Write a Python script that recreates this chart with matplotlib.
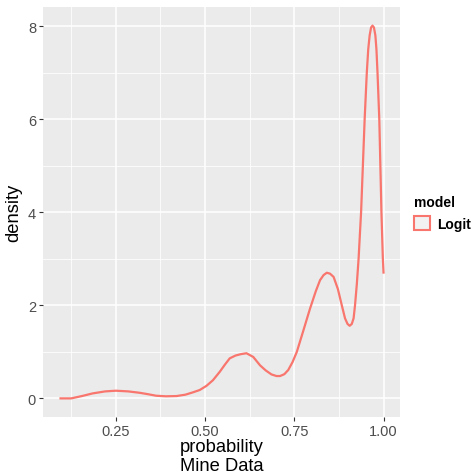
import matplotlib.pyplot as plt
from matplotlib.patches import Patch
from matplotlib.ticker import MultipleLocator

# density curve of model probabilities
prob = [0.092, 0.125, 0.155, 0.185, 0.22, 0.25, 0.285, 0.317, 0.34, 0.363,
        0.39, 0.42, 0.445, 0.466, 0.485, 0.504, 0.522, 0.541, 0.555, 0.569,
        0.585, 0.60, 0.616, 0.635, 0.654, 0.67, 0.686, 0.70, 0.71, 0.722,
        0.733, 0.745, 0.757, 0.775, 0.794, 0.81, 0.822, 0.832, 0.841, 0.85,
        0.86, 0.872, 0.883, 0.892, 0.899, 0.905, 0.911, 0.916, 0.920, 0.925,
        0.930, 0.937, 0.942, 0.947, 0.953, 0.957, 0.961, 0.965, 0.969, 0.973,
        0.977, 0.980, 0.983, 0.988, 0.991, 0.994, 0.998, 1.0]
density = [0.0, 0.0, 0.05, 0.107, 0.15, 0.165, 0.15, 0.12, 0.09, 0.057,
           0.045, 0.05, 0.08, 0.13, 0.18, 0.27, 0.39, 0.57, 0.72, 0.86,
           0.92, 0.95, 0.97, 0.89, 0.71, 0.6, 0.515, 0.48, 0.48, 0.52,
           0.61, 0.78, 1.0, 1.45, 1.93, 2.3, 2.54, 2.65, 2.70, 2.68,
           2.61, 2.35, 2.0, 1.72, 1.6, 1.56, 1.6, 1.72, 2.0, 2.45,
           3.0, 4.0, 5.0, 6.0, 7.0, 7.5, 7.8, 7.97, 8.01, 7.97,
           7.8, 7.5, 7.0, 6.0, 5.0, 4.0, 3.0, 2.68]
model = 'Logit'
model_color = '#F8766D'

plt.rcParams['font.family'] = ['Liberation Sans', 'DejaVu Sans']

fig = plt.figure(figsize=(4.76, 4.77), dpi=100)
ax = fig.add_axes([43 / 476, 59 / 477, 357 / 476, 410 / 477])
ax.set_facecolor('#EBEBEB')

ax.plot(prob, density, color=model_color, lw=1.6, solid_capstyle='butt')

ax.set_xlim(0.046, 1.046)
ax.set_ylim(-0.4, 8.41)
ax.xaxis.set_major_locator(MultipleLocator(0.25))
ax.xaxis.set_minor_locator(MultipleLocator(0.125))
ax.yaxis.set_major_locator(MultipleLocator(2))
ax.yaxis.set_minor_locator(MultipleLocator(1))
ax.set_xticks([0.25, 0.5, 0.75, 1.0])
ax.set_xticklabels(['0.25', '0.50', '0.75', '1.00'])
ax.grid(which='major', color='white', lw=1.1)
ax.grid(which='minor', color='white', lw=0.55)
ax.set_axisbelow(True)
for s in ax.spines.values():
    s.set_visible(False)
ax.tick_params(which='major', length=3, width=0.8, color='#333333',
               labelcolor='#4D4D4D', labelsize=10.5, pad=2)
ax.tick_params(which='minor', length=0)

xl = ax.set_xlabel('probability\nMine Data', fontsize=13.2, linespacing=1.15, labelpad=0)
xl.set_multialignment('center')
ax.set_ylabel('density', fontsize=13.2, labelpad=4)

handles = [Patch(facecolor='#F2F2F2', edgecolor=model_color, lw=1.5, label=model)]
leg = fig.legend(handles=handles, title='model', loc='center left',
                 bbox_to_anchor=(414 / 476, 1 - 214 / 477), frameon=False,
                 fontsize=10, title_fontsize=10, handlelength=1.15,
                 handleheight=1.15, handletextpad=0.55, borderpad=0,
                 borderaxespad=0, alignment='left')
leg.get_title().set_fontweight('bold')
for t in leg.get_texts():
    t.set_fontweight('bold')

fig.savefig('out.png', dpi=100)
